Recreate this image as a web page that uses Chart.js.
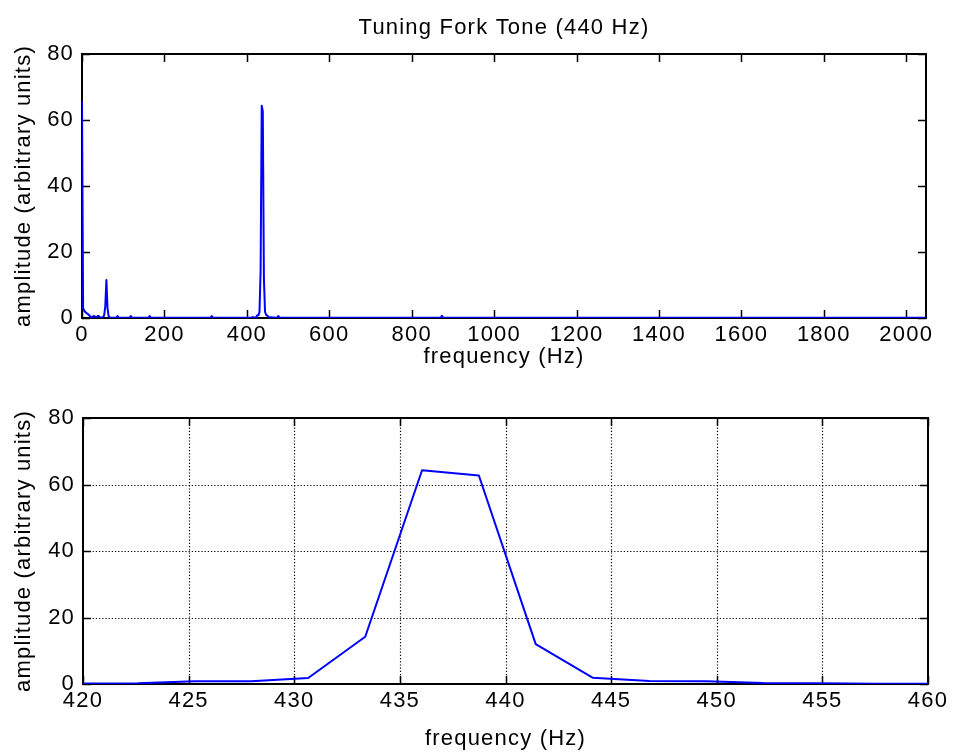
<!DOCTYPE html>
<html><head><meta charset="utf-8">
<script src="https://cdn.jsdelivr.net/npm/chart.js@4"></script>
<style>
html,body{margin:0;padding:0;background:#fff;}
#wrap{position:relative;width:953px;height:753px;overflow:hidden;}
.box{position:absolute;left:0;width:953px;}
</style></head><body>
<div id="wrap">
<div class="box" style="top:0;height:375px"><canvas id="c1" width="953" height="375"></canvas></div>
<div class="box" style="top:375px;height:378px"><canvas id="c2" width="953" height="378"></canvas></div>
</div>
<script>
// ---- data ----
const chartTitle = "Tuning Fork Tone (440 Hz)";
const xLabel = "frequency (Hz)";
const yLabel = "amplitude (arbitrary units)";

// full spectrum (top panel), frequency in Hz and amplitude
const fullFreq = [0, 2.7, 5.4, 8.1, 10.8, 13.5, 16.1, 18.8, 21.5, 24.2, 26.9, 29.6, 32.3, 35.0, 37.7, 40.4, 43.1, 45.7, 48.4, 51.1, 53.8, 56.5, 59.2, 61.9, 64.6, 67.3, 83.4, 86.1, 88.8, 115.7, 118.4, 121.1, 161.5, 164.2, 166.8, 312.2, 314.9, 317.6, 411.8, 414.5, 417.2, 419.9, 422.6, 425.3, 428.0, 430.7, 433.4, 436.1, 438.7, 441.4, 444.1, 446.8, 449.5, 452.2, 454.9, 473.7, 476.4, 479.1, 870.6, 873.3, 876.0, 2060];
const fullAmp  = [65.5, 3.0, 2.2, 1.8, 1.5, 1.3, 1.0, 0.6, 0.3, 0.2, 0.5, 0.6, 0.3, 0.2, 0.6, 0.6, 0.3, 0.1, 0.2, 0.3, 0.8, 3.5, 11.5, 3.0, 0.6, 0.1, 0.1, 0.6, 0.1, 0.1, 0.6, 0.1, 0.1, 0.6, 0.1, 0.1, 0.6, 0.1, 0.1, 0.3, 0.1, 0.15, 0.2, 0.8, 0.8, 1.8, 14.2, 64.3, 62.7, 12.0, 1.9, 0.9, 0.8, 0.3, 0.2, 0.1, 0.6, 0.1, 0.1, 0.7, 0.1, 0.05];

// zoomed spectrum (bottom panel)
const zoomFreq = [419.90, 422.59, 425.28, 427.97, 430.66, 433.36, 436.05, 438.74, 441.43, 444.12, 446.81, 449.51, 452.20, 454.89, 457.58, 460.27];
const zoomAmp  = [0.15, 0.2, 0.8, 0.8, 1.8, 14.2, 64.3, 62.7, 12.0, 1.9, 0.9, 0.8, 0.3, 0.2, 0.1, 0.1];

const topXTicks = [0, 200, 400, 600, 800, 1000, 1200, 1400, 1600, 1800, 2000];
const topYTicks = [0, 20, 40, 60, 80];
const bottomXTicks = [420, 425, 430, 435, 440, 445, 450, 455, 460];
const bottomYTicks = [0, 20, 40, 60, 80];

// ---- drawing ----
const FONT = "'Liberation Sans', Arial, Helvetica, sans-serif";
const FS = 22;
const LS = '1.2px';

const framePlugin = {
  id: 'frame',
  beforeDraw(chart) {
    try { chart.ctx.letterSpacing = LS; } catch (e) {}
  },
  beforeDatasetsDraw(chart, args, o) {
    const ctx = chart.ctx, a = chart.chartArea;
    const xs = chart.scales.x, ys = chart.scales.y;
    ctx.save();
    if (o.grid) {
      ctx.strokeStyle = '#000';
      ctx.lineWidth = 1.2;
      ctx.setLineDash([1.2, 2]);
      xs.ticks.forEach(t => {
        const px = Math.round(xs.getPixelForValue(t.value)) + 0.5;
        if (px < a.left + 2 || px > a.right - 2) return;
        ctx.beginPath(); ctx.moveTo(px, a.top); ctx.lineTo(px, a.bottom); ctx.stroke();
      });
      ys.ticks.forEach(t => {
        const py = Math.round(ys.getPixelForValue(t.value)) + 0.5;
        if (py < a.top + 2 || py > a.bottom - 2) return;
        ctx.beginPath(); ctx.moveTo(a.left, py); ctx.lineTo(a.right, py); ctx.stroke();
      });
      ctx.setLineDash([]);
    }
    // inward ticks
    const TL = 8;
    ctx.strokeStyle = '#000';
    ctx.lineWidth = 1.5;
    xs.ticks.forEach(t => {
      const px = Math.round(xs.getPixelForValue(t.value)) + 0.5;
      ctx.beginPath();
      ctx.moveTo(px, a.bottom); ctx.lineTo(px, a.bottom - TL);
      ctx.moveTo(px, a.top); ctx.lineTo(px, a.top + TL);
      ctx.stroke();
    });
    ys.ticks.forEach(t => {
      const py = Math.round(ys.getPixelForValue(t.value)) + 0.5;
      ctx.beginPath();
      ctx.moveTo(a.left, py); ctx.lineTo(a.left + TL, py);
      ctx.moveTo(a.right, py); ctx.lineTo(a.right - TL, py);
      ctx.stroke();
    });
    // frame
    ctx.lineWidth = 2;
    ctx.strokeRect(a.left, a.top, a.right - a.left, a.bottom - a.top);
    ctx.restore();
  },
  afterDraw(chart, args, o) {
    if (!o.title) return;
    const ctx = chart.ctx, a = chart.chartArea;
    ctx.save();
    ctx.fillStyle = '#000';
    ctx.font = FS + 'px ' + FONT;
    ctx.textAlign = 'center';
    ctx.textBaseline = 'middle';
    ctx.fillText(o.title, (a.left + a.right) / 2, o.titleY);
    ctx.restore();
  }
};

function makeChart(id, freq, amp, xmin, xmax, xticks, yticks, cfg) {
  const pts = freq.map((f, i) => ({ x: f, y: amp[i] }));
  return new Chart(document.getElementById(id), {
    type: 'line',
    data: { datasets: [{ data: pts, borderColor: '#0000ff', borderWidth: 2, borderJoinStyle: 'round', borderCapStyle: 'round', pointRadius: 0, tension: 0, fill: false }] },
    plugins: [framePlugin],
    options: {
      responsive: false,
      animation: false,
      events: [],
      layout: { padding: { left: 0, right: cfg.padRight, top: cfg.padTop, bottom: 0 } },
      plugins: {
        legend: { display: false },
        tooltip: { enabled: false },
        title: { display: false },
        frame: { grid: cfg.grid, title: cfg.title, titleY: cfg.titleY }
      },
      scales: {
        x: {
          type: 'linear', min: xmin, max: xmax,
          afterBuildTicks: s => { s.ticks = xticks.map(v => ({ value: v })); },
          afterFit: s => { s.height = cfg.xHeight; },
          grid: { display: false, drawTicks: false },
          border: { display: false },
          ticks: { color: '#000', font: { family: FONT, size: FS }, padding: cfg.xTickPad, maxRotation: 0, autoSkip: false, callback: v => String(v) },
          title: { display: true, text: xLabel, color: '#000', font: { family: FONT, size: FS }, padding: { top: 0, bottom: cfg.xTitlePad } }
        },
        y: {
          type: 'linear', min: 0, max: 80,
          afterBuildTicks: s => { s.ticks = yticks.map(v => ({ value: v })); },
          afterFit: s => { s.width = cfg.yWidth; },
          grid: { display: false, drawTicks: false },
          border: { display: false },
          ticks: { color: '#000', font: { family: FONT, size: FS }, padding: 8, callback: v => String(v) },
          title: { display: true, text: yLabel, color: '#000', font: { family: FONT, size: FS }, padding: { top: 11, bottom: 0 } }
        }
      }
    }
  });
}

makeChart('c1', fullFreq, fullAmp, 0, 2048, topXTicks, topYTicks,
  { padRight: 27, padTop: 54, xHeight: 57, yWidth: 82, xTickPad: 4, xTitlePad: 5, grid: false, title: chartTitle, titleY: 28 });
makeChart('c2', zoomFreq, zoomAmp, 420, 460, bottomXTicks, bottomYTicks,
  { padRight: 25, padTop: 43, xHeight: 69, yWidth: 83, xTickPad: 4, xTitlePad: 1, grid: true, title: null, titleY: 0 });
</script>
</body></html>
